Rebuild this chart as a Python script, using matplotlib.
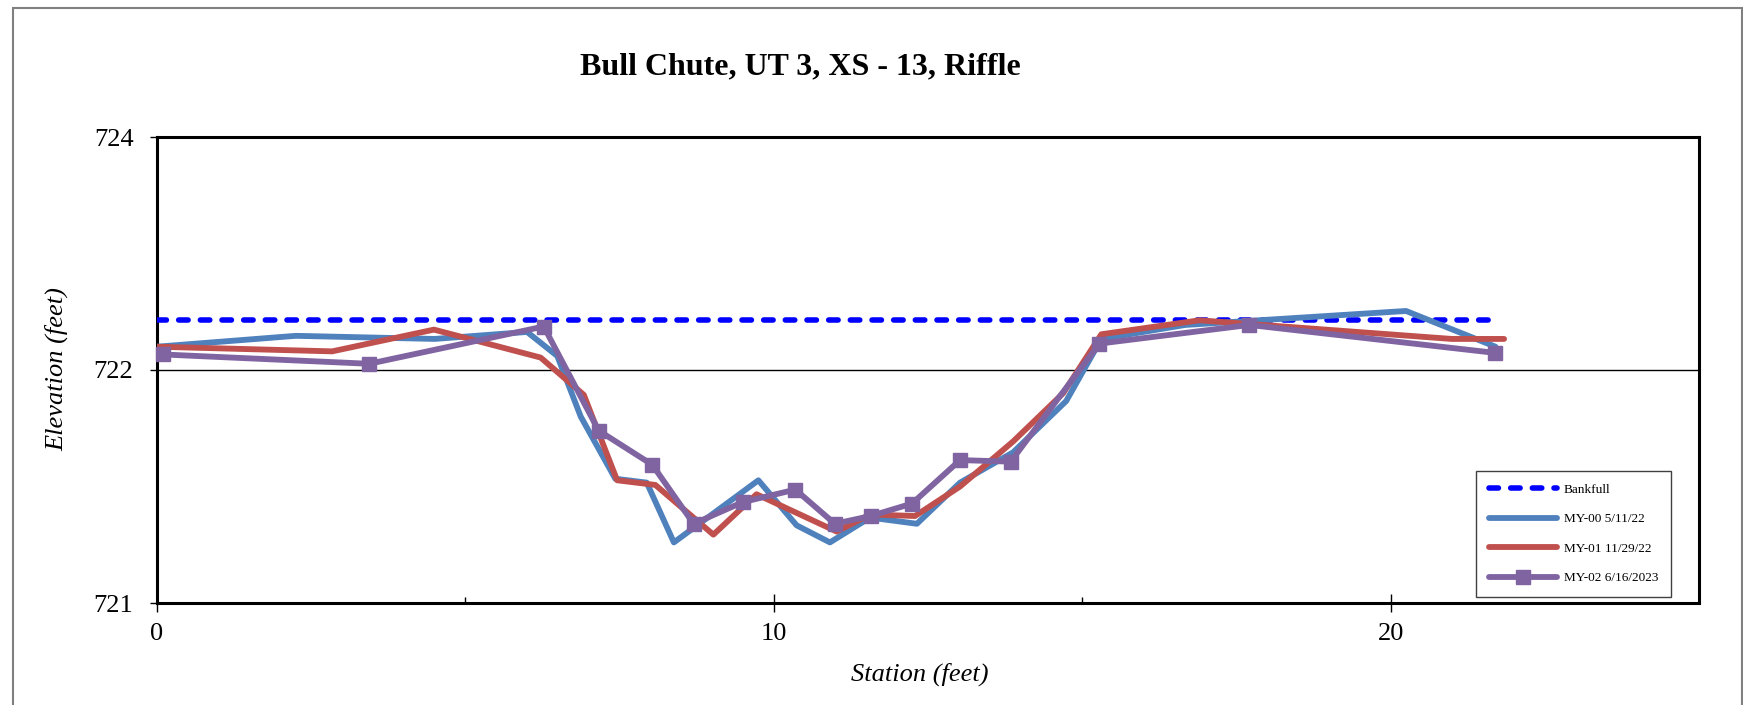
import numpy as np
import matplotlib.pyplot as plt
from matplotlib.patches import Rectangle

plt.rcParams['font.family'] = ['Liberation Serif', 'DejaVu Serif']

# survey data: station (ft) and elevation (ft)
bankfull_x = [0.0, 21.6]
bankfull_y = [722.32, 722.32]

my00_x = [0.0, 2.25, 4.5, 6.0, 6.49, 6.87, 7.43, 7.94, 8.38, 9.75, 10.37, 10.91,
          11.56, 12.32, 13.02, 13.88, 14.74, 15.31, 16.67, 20.25, 21.70]
my00_y = [722.15, 722.22, 722.20, 722.245, 722.09, 721.70, 721.30, 721.275, 720.89,
          721.29, 721.00, 720.89, 721.05, 721.01, 721.275, 721.47, 721.80, 722.20,
          722.29, 722.38, 722.15]

my01_x = [0.0, 2.84, 4.49, 6.22, 6.92, 7.46, 8.08, 9.02, 9.72, 11.02, 11.56, 12.29,
          13.02, 13.88, 14.69, 15.31, 16.9, 20.99, 21.84]
my01_y = [722.15, 722.12, 722.26, 722.08, 721.84, 721.29, 721.26, 720.94, 721.20,
          720.96, 721.07, 721.06, 721.25, 721.54, 721.85, 722.23, 722.32, 722.20, 722.20]

my02_x = [0.1, 3.44, 6.27, 7.16, 8.03, 8.70, 9.50, 10.35, 10.99, 11.57, 12.24,
          13.02, 13.84, 15.28, 17.71, 21.70]
my02_y = [722.10, 722.04, 722.28, 721.61, 721.39, 721.01, 721.15, 721.23, 721.01,
          721.06, 721.14, 721.42, 721.41, 722.17, 722.29, 722.11]

W, H = 1743, 705
fig = plt.figure(figsize=(W / 100, H / 100), dpi=100)

# chart area border (bottom edge runs off the image)
fig.patches.append(Rectangle((13 / W, -0.05), (1742 - 13) / W, (H - 8) / H + 0.05,
                             transform=fig.transFigure, fill=False,
                             edgecolor='#808080', linewidth=1.5))

left, right, top, bottom = 157, 1699, 137, 603
ax = fig.add_axes([left / W, 1 - bottom / H, (right - left) / W, (bottom - top) / H])

ax.plot(bankfull_x, bankfull_y, color='#0000FF', linewidth=4.0, linestyle=(0, (1.7, 2.2)),
        dash_capstyle='round', label='Bankfull', zorder=3)
ax.plot(my00_x, my00_y, color='#4F81BD', linewidth=4.2, solid_capstyle='round',
        label='MY-00 5/11/22', zorder=4)
ax.plot(my01_x, my01_y, color='#C0504D', linewidth=4.2, solid_capstyle='round',
        label='MY-01 11/29/22', zorder=5)
ax.plot(my02_x, my02_y, color='#8064A2', linewidth=4.2, solid_capstyle='round',
        marker='s', markersize=10, label='MY-02 6/16/2023', zorder=6, clip_on=False)

ax.set_xlim(0, 25)
ax.set_ylim(720.5, 723.5)
ax.set_xticks([0, 10, 20])
ax.set_xticks([5, 15], minor=True)
ax.set_yticks([720.5, 722, 723.5])
ax.set_yticklabels(['721', '722', '724'])
ax.axhline(722, color='black', linewidth=1.0, zorder=1)

for s in ax.spines.values():
    s.set_linewidth(2.2)

ax.tick_params(axis='x', which='major', direction='inout', length=13, width=1,
               labelsize=19, pad=8)
ax.tick_params(axis='x', which='minor', direction='in', length=4.5, width=1)
ax.tick_params(axis='y', which='major', direction='out', length=5, width=1,
               labelsize=19, pad=12)

fig.text(56.7 / W, 1 - 369.5 / H, 'Elevation (feet)', rotation=90, ha='center',
         va='center', fontsize=19, style='italic')
fig.text(920 / W, 1 - 674 / H, 'Station (feet)', ha='center', va='center',
         fontsize=19, style='italic')
fig.text(800 / W, 1 - 67 / H, 'Bull Chute, UT 3, XS - 13, Riffle', ha='center',
         va='center', fontsize=23, fontweight='bold')

leg = ax.legend(loc='center', bbox_to_anchor=(1573.5 / W, 1 - 534 / H),
                bbox_transform=fig.transFigure, fontsize=9.5, handlelength=5.2,
                labelspacing=1.3, handletextpad=0.5, borderpad=1.0,
                fancybox=False, framealpha=1, edgecolor='#404040')
leg.get_frame().set_linewidth(1.0)

fig.savefig('out.png', dpi=100)
